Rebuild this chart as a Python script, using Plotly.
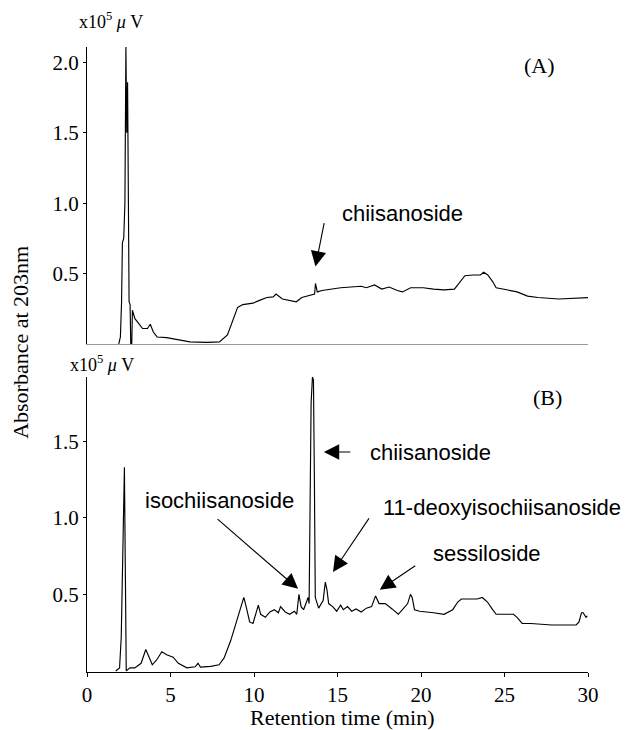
import plotly.graph_objects as go

# ---------------- data (retention time in min, signal in x10^5 uV) ----------------
time_a = [1.90, 2.00, 2.07, 2.12, 2.20, 2.27, 2.33, 2.38, 2.43, 2.48, 2.52, 2.58, 2.62, 2.68,
          2.72, 2.87, 3.05, 3.33, 3.62, 3.79, 3.97, 4.20, 4.77, 5.37, 6.16, 7.20, 7.93, 8.41,
          8.72, 9.02, 9.33, 9.94, 10.33, 10.77, 11.15, 11.32, 11.70, 12.03, 12.53, 12.86,
          13.41, 13.63, 13.68, 13.79, 14.07, 14.62, 15.19, 15.80, 16.42, 16.73, 17.22, 17.65,
          18.09, 18.58, 18.89, 19.38, 20.13, 20.75, 21.38, 22.00, 22.31, 22.63, 23.13, 23.56,
          23.75, 24.00, 24.31, 24.50, 25.13, 25.75, 26.38, 27.00, 28.25, 29.50, 30.00]
signal_a = [0.0, 0.05, 0.30, 0.72, 0.75, 1.00, 2.11, 1.50, 1.86, 0.80, 0.30, 0.28, 0.0, 0.0,
            0.24, 0.18, 0.15, 0.11, 0.11, 0.14, 0.085, 0.05, 0.045, 0.03, 0.015, 0.012, 0.015, 0.065,
            0.16, 0.26, 0.28, 0.29, 0.31, 0.33, 0.335, 0.355, 0.32, 0.31, 0.30, 0.33,
            0.35, 0.355, 0.43, 0.37, 0.38, 0.39, 0.40, 0.405, 0.41, 0.40, 0.42, 0.39,
            0.405, 0.38, 0.37, 0.40, 0.40, 0.39, 0.385, 0.39, 0.44, 0.485, 0.49, 0.49,
            0.51, 0.49, 0.44, 0.40, 0.385, 0.37, 0.34, 0.33, 0.32, 0.325, 0.33]

time_b = [1.72, 1.95, 2.05, 2.13, 2.24, 2.30, 2.35, 2.57, 2.86, 3.24, 3.52, 3.72, 3.91, 4.16,
          4.48, 4.77, 5.16, 5.47, 5.98, 6.48, 6.65, 6.79, 7.40, 7.91, 8.21, 8.61, 8.92, 9.19,
          9.39, 9.53, 9.74, 9.94, 10.13, 10.26, 10.40, 10.68, 10.95, 11.22, 11.46, 11.59,
          11.87, 12.14, 12.42, 12.56, 12.69, 12.82, 12.97, 13.06, 13.24, 13.30, 13.36, 13.42,
          13.50, 13.56, 13.62, 13.67, 13.87, 14.14, 14.27, 14.37, 14.47, 14.71, 14.95, 15.19,
          15.35, 15.60, 15.85, 16.11, 16.42, 16.73, 17.04, 17.28, 17.49, 17.86, 18.27, 18.64,
          18.89, 19.20, 19.37, 19.47, 19.61, 19.92, 20.75, 21.38, 21.90, 22.20, 22.42, 22.83,
          23.36, 23.67, 23.98, 24.29, 24.50, 24.92, 25.54, 25.75, 26.06, 26.58, 27.83, 29.29,
          29.46, 29.61, 29.71, 29.88, 29.96]
signal_b = [0.0, 0.02, 0.22, 0.70, 1.33, 0.60, 0.0, 0.02, 0.02, 0.05, 0.14, 0.09, 0.04, 0.07,
            0.125, 0.105, 0.09, 0.05, 0.02, 0.027, 0.05, 0.025, 0.03, 0.04, 0.085, 0.20, 0.31, 0.40,
            0.48, 0.42, 0.32, 0.31, 0.38, 0.43, 0.37, 0.35, 0.385, 0.40, 0.38, 0.42,
            0.385, 0.37, 0.39, 0.37, 0.50, 0.42, 0.40, 0.43, 0.48, 0.44, 1.00, 1.75,
            1.92, 1.90, 1.20, 0.48, 0.41, 0.46, 0.58, 0.53, 0.44, 0.42, 0.39, 0.43,
            0.40, 0.42, 0.39, 0.405, 0.385, 0.41, 0.42, 0.49, 0.44, 0.44, 0.405, 0.37,
            0.40, 0.44, 0.50, 0.48, 0.40, 0.39, 0.38, 0.37, 0.40, 0.45, 0.47, 0.47,
            0.47, 0.48, 0.45, 0.40, 0.37, 0.37, 0.37, 0.35, 0.31, 0.31, 0.30, 0.30,
            0.32, 0.38, 0.38, 0.35, 0.36]

x_ticks = [0, 5, 10, 15, 20, 25, 30]
y_ticks_a = [0.5, 1.0, 1.5, 2.0]
y_ticks_b = [0.5, 1.0, 1.5]

# peak labels: (name, peak time, arrow tip signal)
label_a = ("chiisanoside", 13.68, 0.55)
labels_b = [("isochiisanoside", 12.64, 0.536),
            ("chiisanoside", 14.18, 1.43),
            ("11-deoxyisochiisanoside", 14.73, 0.647),
            ("sessiloside", 17.53, 0.53)]

# ---------------- figure ----------------
serif = "Liberation Serif, Times New Roman, serif"
sans = "Liberation Sans, Arial, sans-serif"
line_style = dict(color="black", width=1.15)

fig = go.Figure()
fig.add_trace(go.Scatter(x=time_a, y=signal_a, mode="lines", line=line_style,
                         xaxis="x", yaxis="y", showlegend=False, hoverinfo="skip"))
fig.add_trace(go.Scatter(x=time_b, y=signal_b, mode="lines", line=line_style,
                         xaxis="x2", yaxis="y2", showlegend=False, hoverinfo="skip"))

tickfont = dict(family=serif, size=21, color="black")

fig.update_layout(
    width=629, height=730,
    margin=dict(l=87, r=41, t=47, b=58, autoexpand=False),
    paper_bgcolor="white", plot_bgcolor="white",
    xaxis=dict(domain=[0, 1], range=[0, 30], anchor="y", showticklabels=False,
               ticks="", showline=True, linecolor="#9a9a9a", linewidth=1,
               showgrid=False, zeroline=False, automargin=False),
    yaxis=dict(domain=[0.5248, 1], range=[0, 2.11], anchor="x", tickvals=y_ticks_a,
               ticktext=[f"{v:.1f}" for v in y_ticks_a], ticks="outside", ticklen=3,
               tickcolor="black", showline=True, linecolor="black", linewidth=1,
               showgrid=False, zeroline=False, tickfont=tickfont, automargin=False),
    xaxis2=dict(domain=[0, 1], range=[0, 30], anchor="y2", tickvals=x_ticks,
                ticks="outside", ticklen=4, tickcolor="black", showline=True,
                linecolor="black", linewidth=1, showgrid=False, zeroline=False,
                tickfont=tickfont, automargin=False),
    yaxis2=dict(domain=[0, 0.472], range=[-0.007, 1.92], anchor="x2", tickvals=y_ticks_b,
                ticktext=[f"{v:.1f}" for v in y_ticks_b], ticks="outside", ticklen=3,
                tickcolor="black", showline=True, linecolor="black", linewidth=1,
                showgrid=False, zeroline=False, tickfont=tickfont, automargin=False),
)

annots = []
# axis titles
annots.append(dict(text="Absorbance at 203nm", xref="paper", yref="paper",
                   x=-0.134, y=0.528, xanchor="center", yanchor="middle",
                   textangle=-90, showarrow=False,
                   font=dict(family=serif, size=22, color="black")))
annots.append(dict(text="Retention time (min)", xref="paper", yref="paper",
                   x=0.509, y=-0.072, xanchor="center", yanchor="middle", showarrow=False,
                   font=dict(family=serif, size=22, color="black")))
# unit labels
for yy, xx in [(1.043, -0.02), (0.494, -0.038)]:
    annots.append(dict(text="x10<sup>5</sup> <i>\u03bc</i> V", xref="paper", yref="paper",
                       x=xx, y=yy, xanchor="left", yanchor="middle", showarrow=False,
                       font=dict(family=serif, size=18, color="black")))
# panel letters
annots.append(dict(text="(A)", xref="paper", yref="paper", x=0.904, y=0.971,
                   xanchor="center", yanchor="middle",
                   showarrow=False, font=dict(family=serif, size=22, color="black")))
annots.append(dict(text="(B)", xref="paper", yref="paper", x=0.920, y=0.44,
                   xanchor="center", yanchor="middle",
                   showarrow=False, font=dict(family=serif, size=22, color="black")))

arrow_style = dict(showarrow=True, arrowhead=2, arrowsize=2.8, arrowwidth=1.1,
                   arrowcolor="black", text="")
labfont = dict(family=sans, size=22, color="black")

# Panel A label
annots.append(dict(x=label_a[1], y=label_a[2], xref="x", yref="y", ax=9, ay=-45, **arrow_style))
annots.append(dict(text=label_a[0], xref="paper", yref="paper", x=0.629, y=0.734,
                   xanchor="center", yanchor="middle", showarrow=False, font=labfont))

# Panel B labels
tails = [(-82, -71), (28, 0), (37, -55), (37, -25)]
text_pos = [(0.265, 0.275), (0.685, 0.352), (0.829, 0.264), (0.798, 0.189)]
for (name, t, v), (ax, ay), (tx, ty) in zip(labels_b, tails, text_pos):
    annots.append(dict(x=t, y=v, xref="x2", yref="y2", ax=ax, ay=ay, **arrow_style))
    annots.append(dict(text=name, xref="paper", yref="paper", x=tx, y=ty,
                       xanchor="center", yanchor="middle", showarrow=False, font=labfont))

fig.update_layout(annotations=annots)
fig.write_html("out.html")
